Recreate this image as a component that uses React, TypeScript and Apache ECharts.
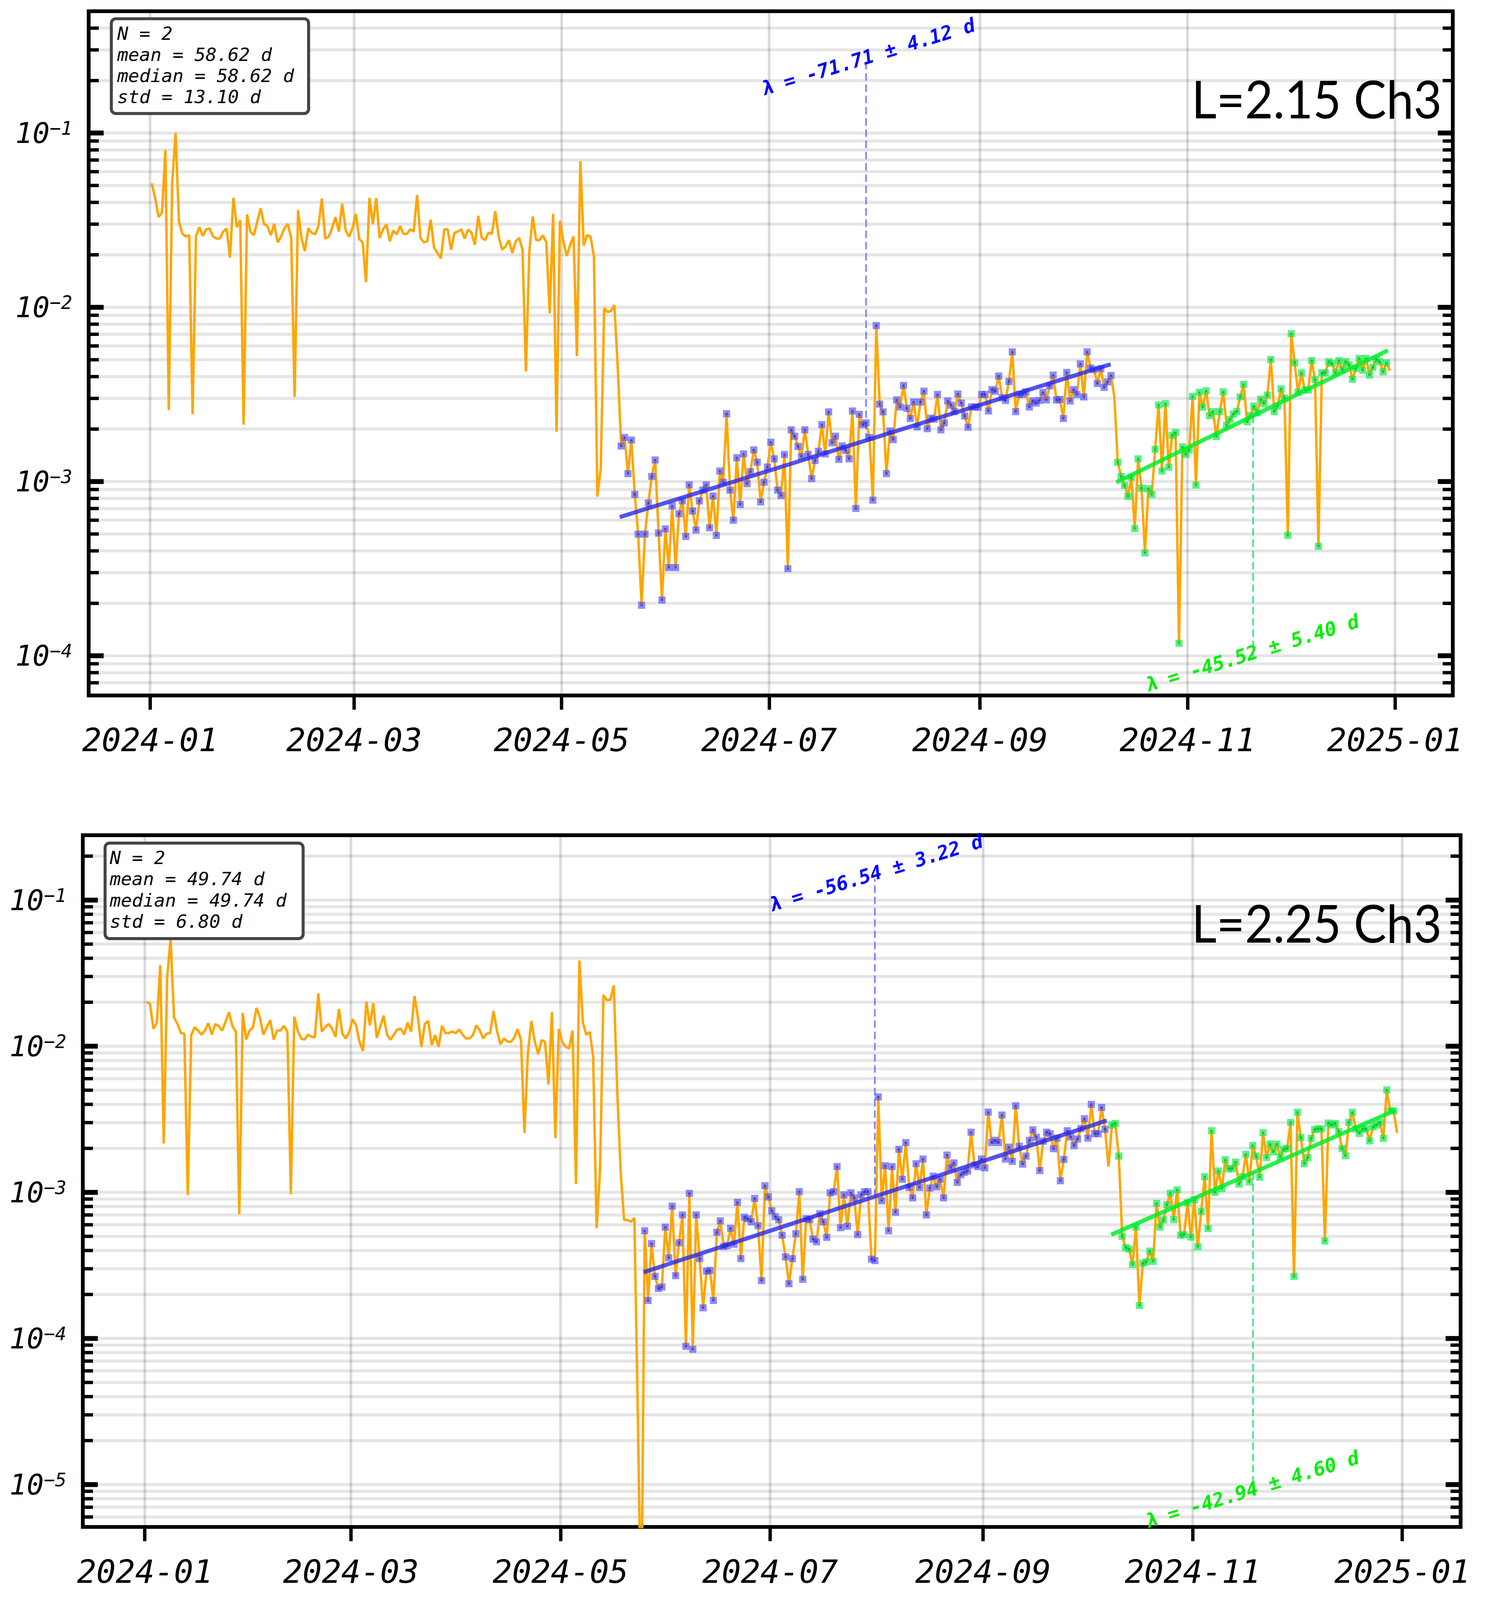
import React, { useEffect, useRef } from 'react';
import * as echarts from 'echarts';

const DAY = 86400000;
const START = '2024-01-01T12:00:00Z';
const monthTicks = ['2024-01-01', '2024-03-01', '2024-05-01', '2024-07-01', '2024-09-01', '2024-11-01', '2025-01-01'];

// ---------- Top panel (L=2.15 Ch3) ----------
const topPre = [
  0.0515, 0.0423, 0.0330, 0.0348, 0.080, 0.00257, 0.0515, 0.1005, 0.0309, 0.0264,
  0.0255, 0.0259, 0.00243, 0.0257, 0.0288, 0.0257, 0.0280, 0.0284, 0.0255, 0.0248,
  0.0248, 0.0272, 0.0283, 0.0193, 0.0425, 0.0288, 0.0316, 0.00212, 0.0341, 0.0272,
  0.0259, 0.0309, 0.0370, 0.0301, 0.0292, 0.0259, 0.0301, 0.0236, 0.0254, 0.0284,
  0.0301, 0.0250, 0.00306, 0.0361, 0.0250, 0.0210, 0.0284, 0.0268, 0.0262, 0.0292,
  0.0420, 0.0248, 0.0254, 0.0284, 0.0329, 0.0272, 0.0394, 0.0276, 0.0254, 0.0284,
  0.0344, 0.0246, 0.0236, 0.0139, 0.0425, 0.0301, 0.0423, 0.0250, 0.0280, 0.0299,
  0.0239, 0.0276, 0.0262, 0.0292, 0.0264, 0.0264, 0.0280, 0.0272, 0.0441, 0.0250,
  0.0236, 0.0239, 0.0318, 0.0220, 0.0205, 0.0191, 0.0280, 0.0280, 0.0214, 0.0268,
  0.0272, 0.0280, 0.0248, 0.0280, 0.0268, 0.0228, 0.0335, 0.0250, 0.0243, 0.0268,
  0.0264, 0.0356, 0.0254, 0.0214, 0.0223, 0.0243, 0.0205, 0.0239, 0.0250, 0.0214,
  0.00428, 0.0208, 0.0332, 0.0243, 0.0243, 0.0259, 0.0236, 0.00923, 0.0344, 0.00193,
  0.0314, 0.0239, 0.0197, 0.0228, 0.0255, 0.00524, 0.0689, 0.0226, 0.0260, 0.0254,
  0.0195, 0.00082, 0.0012, 0.0099, 0.0094, 0.0095, 0.0103, 0.0045,
];
const topFit1 = [
  1.60e-3, 1.79e-3, 1.11e-3, 1.73e-3, 8.43e-4, 4.99e-4, 1.95e-4, 4.99e-4, 7.53e-4, 1.07e-3,
  1.33e-3, 5.06e-4, 2.09e-4, 5.35e-4, 3.21e-4, 7.24e-4, 3.21e-4, 6.53e-4, 7.74e-4, 4.84e-4,
  9.57e-4, 6.77e-4, 5.27e-4, 7.74e-4, 8.93e-4, 9.57e-4, 5.43e-4, 8.26e-4, 4.91e-4, 1.15e-3,
  9.91e-4, 2.45e-3, 8.93e-4, 6.00e-4, 1.37e-3, 7.38e-4, 1.44e-3, 9.72e-4, 1.14e-3, 1.52e-3,
  1.29e-3, 7.64e-4, 9.91e-4, 1.21e-3, 1.68e-3, 1.35e-3, 8.93e-4, 8.31e-4, 1.43e-3, 3.16e-4,
  1.98e-3, 1.82e-3, 1.59e-3, 1.39e-3, 1.98e-3, 1.43e-3, 1.04e-3, 1.32e-3, 1.49e-3, 2.12e-3,
  1.44e-3, 2.51e-3, 1.67e-3, 1.82e-3, 1.34e-3, 1.60e-3, 1.51e-3, 1.35e-3, 2.54e-3, 7.01e-4,
  2.43e-3, 2.12e-3, 2.17e-3, 1.79e-3, 7.82e-4, 7.85e-3, 2.78e-3, 2.51e-3, 1.11e-3, 1.95e-3,
  1.74e-3, 2.94e-3, 2.68e-3, 3.56e-3, 2.63e-3, 2.30e-3, 2.86e-3, 2.06e-3, 2.86e-3, 3.30e-3,
  2.01e-3, 2.31e-3, 2.28e-3, 3.16e-3, 1.98e-3, 2.17e-3, 2.90e-3, 2.74e-3, 2.52e-3, 3.18e-3,
  2.82e-3, 2.38e-3, 2.05e-3, 2.68e-3, 2.68e-3, 2.67e-3, 3.16e-3, 3.16e-3, 2.54e-3, 3.37e-3,
  3.30e-3, 4.03e-3, 3.03e-3, 2.92e-3, 3.75e-3, 5.55e-3, 2.52e-3, 3.16e-3, 3.16e-3, 3.27e-3,
  2.68e-3, 2.90e-3, 2.82e-3, 2.92e-3, 3.25e-3, 2.94e-3, 3.54e-3, 4.08e-3, 2.94e-3, 2.96e-3,
  2.30e-3, 4.23e-3, 2.90e-3, 3.37e-3, 3.16e-3, 4.73e-3, 3.06e-3, 5.55e-3, 4.48e-3, 4.39e-3,
  3.65e-3, 4.45e-3, 3.47e-3, 3.73e-3, 4.06e-3,
];
const topGap = [3.06e-3];
const topFit2 = [
  1.29e-3, 1.07e-3, 9.51e-4, 8.23e-4, 1.06e-3, 5.37e-4, 1.35e-3, 9.15e-4, 3.89e-4, 9.09e-4,
  8.43e-4, 1.53e-3, 2.75e-3, 1.15e-3, 2.80e-3, 1.21e-3, 1.84e-3, 1.91e-3, 1.18e-4, 1.58e-3,
  1.43e-3, 1.52e-3, 3.08e-3, 9.55e-4, 3.25e-3, 2.67e-3, 3.32e-3, 2.39e-3, 2.52e-3, 1.81e-3,
  2.52e-3, 3.27e-3, 2.10e-3, 2.27e-3, 2.44e-3, 2.52e-3, 3.06e-3, 3.61e-3, 2.20e-3, 2.39e-3,
  2.71e-3, 2.48e-3, 2.97e-3, 2.80e-3, 3.13e-3, 5.02e-3, 2.52e-3, 2.71e-3, 3.40e-3, 3.01e-3,
  4.91e-4, 7.05e-3, 4.80e-3, 3.25e-3, 4.20e-3, 3.35e-3, 3.35e-3, 4.94e-3, 3.84e-3, 4.25e-4,
  4.20e-3, 4.20e-3, 4.87e-3, 4.76e-3, 4.20e-3, 4.94e-3, 4.39e-3, 4.87e-3, 4.66e-3, 3.86e-3,
  4.45e-3, 5.09e-3, 4.35e-3, 5.09e-3, 4.09e-3, 4.52e-3, 5.02e-3, 4.87e-3, 4.26e-3, 4.80e-3,
];
const topPost = [4.32e-3];
const topFitLineA = [['2024-05-18T02:00:00Z', 6.25e-4], ['2024-10-09T10:00:00Z', 4.71e-3]];
const topFitLineB = [['2024-10-11T02:00:00Z', 9.9e-4], ['2024-12-29T22:00:00Z', 5.66e-3]];
const topMarkA = ['2024-07-29T12:00:00Z', 0.26];
const topMarkB = ['2024-11-20T07:00:00Z', 9.5e-5];
const topStats = ['N = 2', 'mean = 58.62 d', 'median = 58.62 d', 'std = 13.10 d'];
const topLambda = ['λ = -71.71 ± 4.12 d', 'λ = -45.52 ± 5.40 d'];
const topTitle = 'L=2.15 Ch3';
const topYRange = [5.92e-5, 0.5];

// ---------- Bottom panel (L=2.25 Ch3) ----------
const botPre = [
  0.0201, 0.0195, 0.0132, 0.0144, 0.0359, 0.00216, 0.0296, 0.0545, 0.0157, 0.0142,
  0.0123, 0.0122, 9.58e-4, 0.0119, 0.0135, 0.0128, 0.0120, 0.0128, 0.0144, 0.0120,
  0.0142, 0.0137, 0.0128, 0.0147, 0.0171, 0.0137, 0.0126, 7.06e-4, 0.0169, 0.0111,
  0.0128, 0.0135, 0.0183, 0.0157, 0.0120, 0.0135, 0.0151, 0.0111, 0.0128, 0.0128,
  0.0138, 0.0126, 9.73e-4, 0.0159, 0.0128, 0.0113, 0.0111, 0.0120, 0.0116, 0.0115,
  0.0230, 0.0126, 0.0135, 0.0142, 0.0132, 0.0116, 0.0180, 0.0122, 0.0113, 0.0125,
  0.0153, 0.0139, 0.0107, 0.00929, 0.0202, 0.0139, 0.0197, 0.0114, 0.0135, 0.0162,
  0.0120, 0.0111, 0.0120, 0.0130, 0.0132, 0.0120, 0.0145, 0.0126, 0.0221, 0.0157,
  0.00990, 0.0142, 0.0149, 0.0102, 0.0119, 0.00990, 0.0138, 0.0123, 0.0123, 0.0126,
  0.0123, 0.0130, 0.0120, 0.0113, 0.0113, 0.0119, 0.0139, 0.0128, 0.0113, 0.0122,
  0.0123, 0.0174, 0.0128, 0.0103, 0.0113, 0.0108, 0.0107, 0.0114, 0.0131, 0.0110,
  0.00255, 0.00896, 0.0149, 0.0108, 0.00882, 0.0110, 0.0107, 0.00547, 0.0171, 0.00235,
  0.0131, 0.0107, 0.0099, 0.00966, 0.0128, 0.00114, 0.0386, 0.0145, 0.0120, 0.0125,
  0.00851, 5.68e-4, 0.00140, 0.0224, 0.0207, 0.0207, 0.0261, 0.00499, 0.00140, 6.47e-4,
  6.47e-4, 6.28e-4, 6.70e-4, 3e-5, 1e-6,
];
const botFit1 = [
  5.46e-4, 1.82e-4, 4.46e-4, 2.66e-4, 2.20e-4, 2.25e-4, 5.78e-4, 3.56e-4, 8.04e-4, 2.69e-4,
  4.52e-4, 7.01e-4, 8.83e-5, 9.84e-4, 8.43e-5, 7.01e-4, 3.52e-4, 1.62e-4, 2.89e-4, 2.92e-4,
  1.82e-4, 5.33e-4, 6.38e-4, 4.26e-4, 4.32e-4, 5.67e-4, 4.42e-4, 8.54e-4, 3.52e-4, 6.75e-4,
  6.59e-4, 6.29e-4, 9.08e-4, 5.92e-4, 2.49e-4, 1.11e-3, 9.29e-4, 7.48e-4, 6.81e-4, 6.50e-4,
  5.09e-4, 3.62e-4, 2.37e-4, 3.52e-4, 5.21e-4, 1.01e-3, 2.54e-4, 6.59e-4, 6.50e-4, 4.79e-4,
  4.59e-4, 7.14e-4, 6.29e-4, 4.92e-4, 9.93e-4, 1.01e-3, 1.50e-3, 5.73e-4, 9.61e-4, 5.86e-4,
  9.93e-4, 9.17e-4, 5.14e-4, 9.61e-4, 1.01e-3, 1.01e-3, 3.49e-4, 3.41e-4, 4.50e-3, 8.75e-4,
  1.52e-3, 5.46e-4, 1.50e-3, 7.31e-4, 1.97e-3, 1.23e-3, 2.19e-3, 1.08e-3, 9.17e-4, 1.57e-3,
  1.08e-3, 1.69e-3, 7.01e-4, 1.07e-3, 1.29e-3, 1.09e-3, 1.23e-3, 9.17e-4, 1.80e-3, 1.47e-3,
  1.59e-3, 1.17e-3, 1.32e-3, 1.37e-3, 1.40e-3, 2.58e-3, 1.54e-3, 1.50e-3, 1.69e-3, 1.47e-3,
  3.54e-3, 2.19e-3, 2.27e-3, 2.19e-3, 3.38e-3, 1.69e-3, 2.04e-3, 1.63e-3, 3.91e-3, 2.07e-3,
  1.56e-3, 1.77e-3, 2.27e-3, 2.68e-3, 2.38e-3, 1.41e-3, 2.24e-3, 2.58e-3, 2.52e-3, 1.99e-3,
  2.35e-3, 1.20e-3, 1.68e-3, 2.64e-3, 2.40e-3, 2.09e-3, 2.32e-3, 2.73e-3, 3.19e-3, 2.35e-3,
  4.00e-3, 2.52e-3, 2.52e-3, 3.81e-3, 2.70e-3,
];
const botGap = [1.50e-3];
const botFit2 = [
  2.89e-3, 2.96e-3, 1.77e-3, 5.01e-4, 4.18e-4, 4.09e-4, 3.21e-4, 5.79e-4, 1.68e-4, 3.27e-4,
  3.34e-4, 3.96e-4, 3.37e-4, 8.41e-4, 5.79e-4, 6.47e-4, 8.24e-4, 9.87e-4, 6.51e-4, 1.04e-3,
  5.09e-4, 5.13e-4, 8.49e-4, 4.94e-4, 8.89e-4, 4.25e-4, 7.41e-4, 1.28e-3, 5.65e-4, 2.64e-3,
  1.00e-3, 1.40e-3, 1.06e-3, 1.67e-3, 1.45e-3, 1.45e-3, 1.61e-3, 1.14e-3, 1.28e-3, 1.82e-3,
  1.18e-3, 2.09e-3, 1.77e-3, 1.27e-3, 2.56e-3, 1.73e-3, 2.14e-3, 1.89e-3, 2.14e-3, 1.75e-3,
  1.97e-3, 2.00e-3, 3.01e-3, 2.66e-4, 3.53e-3, 2.37e-3, 1.57e-3, 1.73e-3, 2.34e-3, 2.69e-3,
  2.72e-3, 2.72e-3, 4.65e-4, 2.98e-3, 2.89e-3, 2.96e-3, 2.61e-3, 2.00e-3, 1.78e-3, 3.01e-3,
  3.53e-3, 2.71e-3, 2.53e-3, 2.72e-3, 2.72e-3, 2.25e-3, 2.81e-3, 2.89e-3, 3.01e-3, 2.34e-3,
  5.02e-3, 3.61e-3, 3.61e-3,
];
const botPost = [2.55e-3];
const botFitLineA = [['2024-05-25T05:00:00Z', 2.84e-4], ['2024-10-07T00:00:00Z', 3.10e-3]];
const botFitLineB = [['2024-10-08T07:00:00Z', 5.13e-4], ['2024-12-30T02:00:00Z', 3.65e-3]];
const botMarkA = ['2024-07-31T12:00:00Z', 0.14];
const botMarkB = ['2024-11-18T14:00:00Z', 8.5e-6];
const botStats = ['N = 2', 'mean = 49.74 d', 'median = 49.74 d', 'std = 6.80 d'];
const botLambda = ['λ = -56.54 ± 3.22 d', 'λ = -42.94 ± 4.60 d'];
const botTitle = 'L=2.25 Ch3';
const botYRange = [5.13e-6, 0.278];

const X_MIN_DAYS = -18.05;
const X_MAX_DAYS = 383;

// design canvas size
const DW = 3804;
const DH = 4270;

const MONO = '"DejaVu Sans Mono", monospace';
const ORANGE = '#ffa500';
const BLUE_MARK = 'rgba(70,70,255,0.78)';
const BLUE_DOT = 'rgba(20,20,120,0.55)';
const GREEN_MARK = 'rgba(0,235,70,0.82)';
const GREEN_DOT = 'rgba(0,110,40,0.45)';
const BLUE_FIT = 'rgba(40,40,235,0.8)';
const GREEN_FIT = 'rgba(0,238,40,0.85)';

function buildPanel(pre: number[], fit1: number[], gap: number[], fit2: number[], post: number[]) {
  const t0 = Date.parse(START);
  const all = [...pre, ...fit1, ...gap, ...fit2, ...post];
  const line = all.map((v, i) => [t0 + i * DAY, v]);
  const b0 = pre.length;
  const b1 = b0 + fit1.length;
  const g0 = b1 + gap.length;
  const g1 = g0 + fit2.length;
  return { line, blue: line.slice(b0, b1), green: line.slice(g0, g1) };
}

function fitData(fit: any[]) {
  return fit.map((p) => [Date.parse(p[0]), p[1]]);
}

function fitAt(fit: any[], t: number) {
  const [[ta, va], [tb, vb]] = fitData(fit);
  const f = (t - ta) / (tb - ta);
  return Math.pow(10, Math.log10(va) + f * (Math.log10(vb) - Math.log10(va)));
}

function markData(fit: any[], mark: any[]) {
  const t = Date.parse(mark[0]);
  return [[t, fitAt(fit, t)], [t, mark[1]]];
}

function gridItems() {
  const t0 = Date.parse(START);
  const items: any[] = [];
  for (let k = -6; k <= 0; k++) {
    for (let m = 1; m <= 9; m++) items.push([t0, m * Math.pow(10, k), m === 1 ? 1 : 0]);
  }
  monthTicks.forEach((s) => items.push([Date.parse(s + 'T00:00:00Z'), 1e-3, 2]));
  return items;
}

function makeRenderGrid(s: number) {
  return (params: any, api: any) => {
    const cs = params.coordSys;
    const kind = api.value(2);
    const p = api.coord([api.value(0), api.value(1)]);
    if (kind === 2) {
      if (p[0] < cs.x || p[0] > cs.x + cs.width) return null;
      return {
        type: 'line',
        shape: { x1: p[0], y1: cs.y + 5 * s, x2: p[0], y2: cs.y + cs.height - 5 * s },
        style: { stroke: 'rgba(0,0,0,0.14)', lineWidth: 7 * s },
      };
    }
    const y = p[1];
    if (y < cs.y + 4 * s || y > cs.y + cs.height - 4 * s) return null;
    const len = (kind === 1 ? 40 : 27) * s;
    const w = (kind === 1 ? 13 : 9) * s;
    return {
      type: 'group',
      children: [
        { type: 'line', shape: { x1: cs.x + 5 * s, y1: y, x2: cs.x + cs.width - 5 * s, y2: y }, style: { stroke: 'rgba(0,0,0,0.1)', lineWidth: 8 * s } },
        { type: 'line', shape: { x1: cs.x, y1: y, x2: cs.x + len, y2: y }, style: { stroke: '#000', lineWidth: w } },
        { type: 'line', shape: { x1: cs.x + cs.width - len, y1: y, x2: cs.x + cs.width, y2: y }, style: { stroke: '#000', lineWidth: w } },
      ],
    };
  };
}

function panelSeries(idx: number, panel: any, fitA: any[], fitB: any[], markA: any[], markB: any[], s: number) {
  const base = { xAxisIndex: idx, yAxisIndex: idx, silent: true };
  return [
    {
      ...base, type: 'custom', coordinateSystem: 'cartesian2d',
      data: gridItems(), encode: { x: 0, y: 1 }, renderItem: makeRenderGrid(s), z: 1,
    },
    {
      ...base, type: 'line', data: panel.line, showSymbol: false, symbol: 'none',
      lineStyle: { color: ORANGE, width: 6.5 * s }, z: 2,
    },
    { ...base, type: 'scatter', data: panel.blue, symbol: 'rect', symbolSize: 19 * s, itemStyle: { color: BLUE_MARK }, z: 3 },
    { ...base, type: 'scatter', data: panel.blue, symbol: 'rect', symbolSize: 6 * s, itemStyle: { color: BLUE_DOT }, z: 3 },
    { ...base, type: 'scatter', data: panel.green, symbol: 'rect', symbolSize: 19 * s, itemStyle: { color: GREEN_MARK }, z: 3 },
    { ...base, type: 'scatter', data: panel.green, symbol: 'rect', symbolSize: 6 * s, itemStyle: { color: GREEN_DOT }, z: 3 },
    { ...base, type: 'line', data: fitData(fitA), symbol: 'none', lineStyle: { color: BLUE_FIT, width: 11 * s }, z: 4 },
    { ...base, type: 'line', data: fitData(fitB), symbol: 'none', lineStyle: { color: GREEN_FIT, width: 11 * s }, z: 4 },
    {
      ...base, type: 'line', data: markData(fitA, markA), symbol: 'none',
      lineStyle: { color: 'rgba(60,60,255,0.75)', width: 3.5 * s, type: [20 * s, 10 * s] }, z: 4,
    },
    {
      ...base, type: 'line', data: markData(fitB, markB), symbol: 'none',
      lineStyle: { color: 'rgba(0,225,90,0.9)', width: 3.5 * s, type: [20 * s, 10 * s] }, z: 4,
    },
  ];
}

function makeOption(sx: number, sy: number) {
  const s = Math.min(sx, sy);
  const X = (v: number) => v * sx;
  const Y = (v: number) => v * sy;
  const t0 = Date.parse('2024-01-01T00:00:00Z');
  const xMin = t0 + X_MIN_DAYS * DAY;
  const xMax = t0 + X_MAX_DAYS * DAY;
  const ticks = monthTicks.map((d) => Date.parse(d + 'T00:00:00Z'));
  const top = buildPanel(topPre, topFit1, topGap, topFit2, topPost);
  const bot = buildPanel(botPre, botFit1, botGap, botFit2, botPost);

  const yLabelFormatter = (v: number) => {
    const e = Math.log10(v);
    const r = Math.round(e);
    if (Math.abs(e - r) > 1e-6) return '';
    return '{b|10}{s|' + (r < 0 ? '\u2212' : '') + Math.abs(r) + '}';
  };
  const xLabelFormatter = (v: number) => {
    const d = new Date(v);
    return d.getUTCFullYear() + '-' + String(d.getUTCMonth() + 1).padStart(2, '0');
  };

  const xAxis = (gridIndex: number) => ({
    type: 'value', gridIndex, min: xMin, max: xMax,
    axisLine: { show: false },
    splitLine: { show: false },
    axisTick: { show: true, inside: false, length: 38 * s, lineStyle: { color: '#000', width: 9 * s }, customValues: ticks },
    axisLabel: {
      customValues: ticks, formatter: xLabelFormatter, color: '#000',
      fontFamily: MONO, fontStyle: 'italic', fontSize: 86 * s, margin: 76 * s,
    },
  });
  const yAxis = (gridIndex: number, range: number[]) => ({
    type: 'log', logBase: 10, gridIndex, min: range[0], max: range[1],
    axisLine: { show: false },
    axisTick: { show: false },
    splitLine: { show: false },
    minorTick: { show: false },
    axisLabel: {
      formatter: yLabelFormatter, margin: 44 * s,
      rich: {
        b: { fontFamily: MONO, fontStyle: 'italic', fontSize: 76 * s, lineHeight: 76 * s, color: '#000' },
        s: { fontFamily: MONO, fontStyle: 'italic', fontSize: 50 * s, lineHeight: 32 * s, verticalAlign: 'top', color: '#000' },
      },
    },
  });

  const statsBox = (x: number, y: number, w: number, h: number, tx: number, lines: string[]) => ({
    type: 'group', z: 20,
    children: [
      { type: 'rect', shape: { x: X(x), y: Y(y), width: X(w), height: Y(h), r: 12 * s }, style: { fill: '#fff', stroke: '#444', lineWidth: 8 * s }, z: 20 },
      ...lines.map((t, i) => ({
        type: 'text', x: X(tx), y: Y(y + 39 + i * 56.5), z: 21,
        style: { text: t, fill: '#000', font: `italic ${49 * s}px ${MONO}`, align: 'left', verticalAlign: 'middle' },
      })),
    ],
  });
  const lambdaText = (x: number, y: number, text: string, color: string) => ({
    type: 'text', x: X(x), y: Y(y), rotation: (17 * Math.PI) / 180, z: 20,
    style: { text, fill: color, font: `italic bold ${52 * s}px ${MONO}`, align: 'center', verticalAlign: 'middle' },
  });
  const titleText = (x: number, y: number, text: string) => ({
    type: 'text', x: X(x), y: Y(y), z: 20, scaleX: 0.93,
    style: { text, fill: '#000', font: `${140 * s}px Lato, "Open Sans", sans-serif`, align: 'right', verticalAlign: 'middle' },
  });

  return {
    animation: false,
    backgroundColor: '#ffffff',
    grid: [
      { left: X(227), top: Y(30), width: X(3492), height: Y(1826), show: true, borderColor: '#000', borderWidth: 10 * s, backgroundColor: 'transparent', containLabel: false, outerBoundsMode: 'none' },
      { left: X(212), top: Y(2229), width: X(3527), height: Y(1846), show: true, borderColor: '#000', borderWidth: 10 * s, backgroundColor: 'transparent', containLabel: false, outerBoundsMode: 'none' },
    ],
    xAxis: [xAxis(0), xAxis(1)],
    yAxis: [yAxis(0, topYRange), yAxis(1, botYRange)],
    series: [
      ...panelSeries(0, top, topFitLineA, topFitLineB, topMarkA, topMarkB, s),
      ...panelSeries(1, bot, botFitLineA, botFitLineB, botMarkA, botMarkB, s),
    ],
    graphic: [
      statsBox(285, 50, 505, 253, 300, topStats),
      statsBox(269, 2250, 507, 255, 281, botStats),
      titleText(3691, 262, topTitle),
      titleText(3691, 2462, botTitle),
      lambdaText(2222, 152, topLambda[0], '#0000ff'),
      lambdaText(3205, 1743, topLambda[1], '#00ee00'),
      lambdaText(2242, 2330, botLambda[0], '#0000ff'),
      lambdaText(3205, 3975, botLambda[1], '#00ee00'),
    ],
  };
}

export default function App() {
  const ref = useRef<HTMLDivElement>(null);
  const W = Math.min(DW, window.innerWidth || DW);
  const H = Math.min(DH, window.innerHeight || DH);
  useEffect(() => {
    if (!ref.current) return;
    const chart = echarts.init(ref.current, null, { renderer: 'svg', width: W, height: H });
    chart.setOption(makeOption(W / DW, H / DH) as any);
    return () => chart.dispose();
  }, []);
  return (
    <div
      ref={ref}
      style={{ position: 'absolute', left: 0, top: 0, width: W, height: H, background: '#fff', overflow: 'hidden' }}
    />
  );
}
